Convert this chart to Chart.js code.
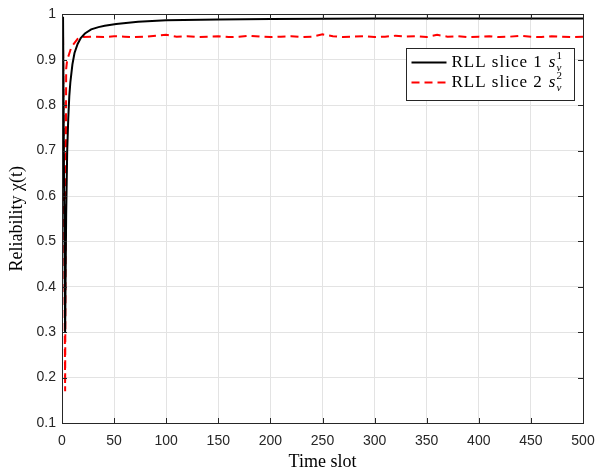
<!DOCTYPE html>
<html>
<head>
<meta charset="utf-8">
<script src="https://cdn.jsdelivr.net/npm/chart.js@4"></script>
<style>
  body { margin: 0; background: #fff; }
  canvas { display: block; }
</style>
</head>
<body>
<canvas id="relChart" width="598" height="473"></canvas>
<script>
// Datos
const seriesNames = ["RLL slice 1", "RLL slice 2"];
const seriesSup = ["1", "2"];

// Slice 1 (línea negra)
const tSlice1 = [1, 2, 3, 4, 5, 6, 7, 8, 9, 10, 12, 15, 18, 22, 28, 35, 41, 52, 73, 100, 150, 200, 300, 400, 500];
const vSlice1 = [0.995, 0.62, 0.30, 0.56, 0.70, 0.77, 0.82, 0.85, 0.87, 0.89, 0.915, 0.935, 0.948, 0.958, 0.967, 0.972, 0.975, 0.979, 0.984, 0.987, 0.989, 0.990, 0.991, 0.991, 0.991];

// Slice 2 (línea roja discontinua)
const tSlice2 = [1, 2, 3, 4, 5, 9, 15, 20, 30, 40, 50, 60, 70, 80, 90, 100, 110, 120, 130, 140, 150, 160, 170, 180, 190, 200,
  210, 220, 230, 240, 250, 260, 270, 280, 290, 300, 310, 320, 330, 340, 350, 360, 370, 380, 390, 400,
  410, 420, 430, 440, 450, 460, 470, 480, 490, 500];
const vSlice2 = [0.95, 0.55, 0.17, 0.88, 0.90, 0.928, 0.946, 0.950, 0.951, 0.950, 0.952, 0.951, 0.950, 0.951, 0.953, 0.955,
  0.951, 0.952, 0.950, 0.951, 0.952, 0.950, 0.951, 0.953, 0.951, 0.950,
  0.951, 0.952, 0.950, 0.951, 0.956, 0.952, 0.950, 0.951, 0.952, 0.950, 0.951, 0.953, 0.951, 0.952, 0.950,
  0.955, 0.951, 0.952, 0.950, 0.951, 0.952, 0.950, 0.951, 0.953, 0.951, 0.950, 0.952, 0.951, 0.950, 0.951];

const xMin = 0, xMax = 500, xStep = 50;
const yMin = 0.1, yMax = 1, yStep = 0.1;

const AXIS_COLOR = "#262626";
const GRID_COLOR = "#e3e3e3";

function toPoints(ts, vs) {
  return ts.map((t, i) => ({ x: t, y: vs[i] }));
}

// Marcas de eje hacia dentro y marco completo, estilo MATLAB
const frameTicks = {
  id: "frameTicks",
  afterDatasetsDraw(chart) {
    const { ctx, chartArea: a, scales: { x, y } } = chart;
    ctx.save();
    ctx.strokeStyle = AXIS_COLOR;
    ctx.lineWidth = 1;
    ctx.beginPath();
    x.ticks.forEach(t => {
      const px = Math.round(x.getPixelForValue(t.value)) + 0.5;
      ctx.moveTo(px, a.bottom); ctx.lineTo(px, a.bottom - 5);
      ctx.moveTo(px, a.top); ctx.lineTo(px, a.top + 5);
    });
    y.ticks.forEach(t => {
      const py = Math.round(y.getPixelForValue(t.value)) + 0.5;
      ctx.moveTo(a.left, py); ctx.lineTo(a.left + 5, py);
      ctx.moveTo(a.right, py); ctx.lineTo(a.right - 5, py);
    });
    ctx.stroke();
    ctx.strokeRect(Math.round(a.left) + 0.5, Math.round(a.top) + 0.5, Math.round(a.width), Math.round(a.height));
    ctx.restore();
  }
};

// Leyenda con s_v^k
const mathLegend = {
  id: "mathLegend",
  afterDraw(chart) {
    const { ctx, chartArea: a } = chart;
    const boxW = 168, boxH = 52;
    const bx = Math.round(a.right - 9 - boxW) + 0.5;
    const by = Math.round(a.top + 34) + 0.5;
    ctx.save();
    ctx.fillStyle = "#fff";
    ctx.fillRect(bx, by, boxW, boxH);
    ctx.strokeStyle = AXIS_COLOR;
    ctx.lineWidth = 1;
    ctx.strokeRect(bx, by, boxW, boxH);
    chart.data.datasets.forEach((ds, i) => {
      const cy = by + 14 + i * 20;
      ctx.strokeStyle = ds.borderColor;
      ctx.lineWidth = ds.borderWidth;
      ctx.setLineDash(ds.borderDash || []);
      ctx.beginPath();
      ctx.moveTo(bx + 5, cy);
      ctx.lineTo(bx + 40, cy);
      ctx.stroke();
      ctx.setLineDash([]);
      ctx.fillStyle = "#000";
      ctx.textBaseline = "middle";
      ctx.font = '17px "Liberation Serif"';
      ctx.letterSpacing = "1px";
      let tx = bx + 45;
      ctx.fillText(seriesNames[i], tx, cy);
      tx += ctx.measureText(seriesNames[i]).width + 6;
      ctx.letterSpacing = "0px";
      ctx.font = 'italic 17px "Liberation Serif"';
      ctx.fillText("s", tx, cy);
      tx += ctx.measureText("s").width + 1;
      ctx.font = '11px "Liberation Serif"';
      ctx.fillText(seriesSup[i], tx, cy - 6);
      ctx.font = 'italic 11px "Liberation Serif"';
      ctx.fillText("v", tx, cy + 6);
    });
    ctx.restore();
  }
};

function createChart() {
  const ctx = document.getElementById("relChart").getContext("2d");
  return new Chart(ctx, {
    type: "line",
    data: {
      datasets: [
        {
          label: seriesNames[0],
          data: toPoints(tSlice1, vSlice1),
          borderColor: "#000000",
          borderWidth: 2,
          pointRadius: 0,
          tension: 0
        },
        {
          label: seriesNames[1],
          data: toPoints(tSlice2, vSlice2),
          borderColor: "#ff0000",
          borderWidth: 2,
          borderDash: [8, 5],
          pointRadius: 0,
          tension: 0
        }
      ]
    },
    options: {
      responsive: false,
      animation: false,
      layout: { padding: { top: 12, right: 15, left: 0, bottom: 0 } },
      plugins: { legend: { display: false }, tooltip: { enabled: false } },
      scales: {
        x: {
          type: "linear",
          min: xMin, max: xMax,
          ticks: {
            stepSize: xStep,
            color: AXIS_COLOR,
            padding: 10,
            font: { family: '"Liberation Sans"', size: 14 },
            maxRotation: 0
          },
          grid: { color: GRID_COLOR, drawTicks: false },
          border: { color: AXIS_COLOR },
          title: {
            display: true,
            text: "Time slot",
            color: "#000",
            font: { family: '"Liberation Serif"', size: 18 },
            padding: { top: 0, bottom: 0 }
          },
          afterFit: s => { s.height = 50; s.paddingRight = 0; s.paddingLeft = 0; }
        },
        y: {
          min: yMin, max: yMax,
          ticks: {
            stepSize: yStep,
            color: AXIS_COLOR,
            padding: 6,
            font: { family: '"Liberation Sans"', size: 14 },
            callback: v => String(+v.toFixed(1))
          },
          grid: { color: GRID_COLOR, drawTicks: false },
          border: { color: AXIS_COLOR },
          title: {
            display: true,
            text: "Reliability χ(t)",
            color: "#000",
            font: { family: '"Liberation Serif"', size: 18 },
            padding: { top: 6, bottom: 0 }
          },
          afterFit: s => { s.width = 62; }
        }
      }
    },
    plugins: [frameTicks, mathLegend]
  });
}

window.addEventListener("load", () => {
  createChart();
});
</script>
</body>
</html>
